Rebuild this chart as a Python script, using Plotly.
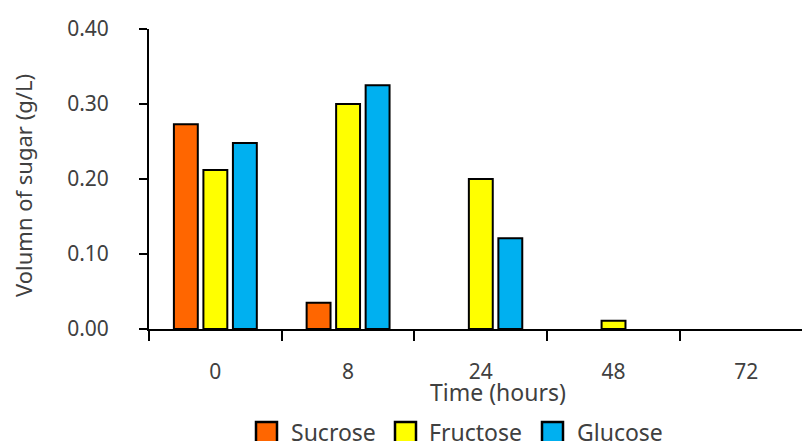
import plotly.graph_objects as go

# Sugar concentration over fermentation time
times = ["0", "8", "24", "48", "72"]
sucrose = [0.273, 0.035, None, None, None]
fructose = [0.212, 0.300, 0.200, 0.011, None]
glucose = [0.248, 0.325, 0.121, None, None]
y_ticks = [0.0, 0.1, 0.2, 0.3, 0.4]
y_tick_text = ["0.00", "0.10", "0.20", "0.30", "0.40"]

FONT = "Noto Sans"
TEXT = "#404040"

series = [
    ("Sucrose", sucrose, "#FF6600"),
    ("Fructose", fructose, "#FFFF00"),
    ("Glucose", glucose, "#00B0F0"),
]

fig = go.Figure()
for name, vals, color in series:
    fig.add_trace(go.Bar(
        x=times, y=vals, name=name, showlegend=False,
        marker=dict(color=color, line=dict(color="black", width=2)),
    ))

W, H = 802, 441
L, R, T, B = 149, 0, 29, 112
PW, PH = W - L - R, H - T - B


def px(x):
    return (x - L) / PW


def py(y):
    return (H - B - y) / PH


annotations = [
    dict(text="Time (hours)", xref="paper", yref="paper",
         x=px(498), y=py(392), xanchor="center", yanchor="middle",
         showarrow=False, font=dict(family=FONT, size=23, color=TEXT)),
    dict(text="Volumn of sugar (g/L)", xref="paper", yref="paper",
         x=px(23), y=py(186), xanchor="center", yanchor="middle",
         showarrow=False, textangle=-90,
         font=dict(family=FONT, size=22, color=TEXT)),
]

# Legend row below the axis title: framed swatch followed by its name
shapes = []
legend_pos = [(256, 289), (395, 427), (542, 575)]
for (name, _, color), (sx, tx) in zip(series, legend_pos):
    shapes.append(dict(
        type="rect", xref="paper", yref="paper",
        x0=px(sx), x1=px(sx + 21), y0=py(422), y1=py(443),
        fillcolor=color, line=dict(color="black", width=2.5), layer="above",
    ))
    annotations.append(dict(
        text=name, xref="paper", yref="paper", x=px(tx), y=py(432),
        xanchor="left", yanchor="middle", showarrow=False,
        font=dict(family=FONT, size=23, color=TEXT),
    ))

fig.update_layout(
    width=W, height=H,
    margin=dict(l=L, r=R, t=T, b=B, autoexpand=False),
    paper_bgcolor="white", plot_bgcolor="white",
    barmode="group", bargap=0.333, bargroupgap=0.19,
    font=dict(family=FONT, size=18, color=TEXT),
    showlegend=False,
    xaxis=dict(
        type="category", range=[-0.5, 4.42],
        showline=True, linecolor="black", linewidth=2,
        ticks="outside", tickson="boundaries", ticklen=10, tickwidth=2,
        tickcolor="black", ticklabelstandoff=23,
        showgrid=False, zeroline=False,
        tickfont=dict(family=FONT, size=21, color=TEXT),
    ),
    yaxis=dict(
        range=[0, 0.4], tickvals=y_ticks, ticktext=y_tick_text,
        showline=True, linecolor="black", linewidth=2,
        ticks="outside", ticklen=8, tickwidth=2, tickcolor="black",
        ticklabelstandoff=26,
        showgrid=False, zeroline=False,
        tickfont=dict(family=FONT, size=21, color=TEXT),
    ),
    annotations=annotations,
    shapes=shapes,
)

fig.write_html("out.html")
